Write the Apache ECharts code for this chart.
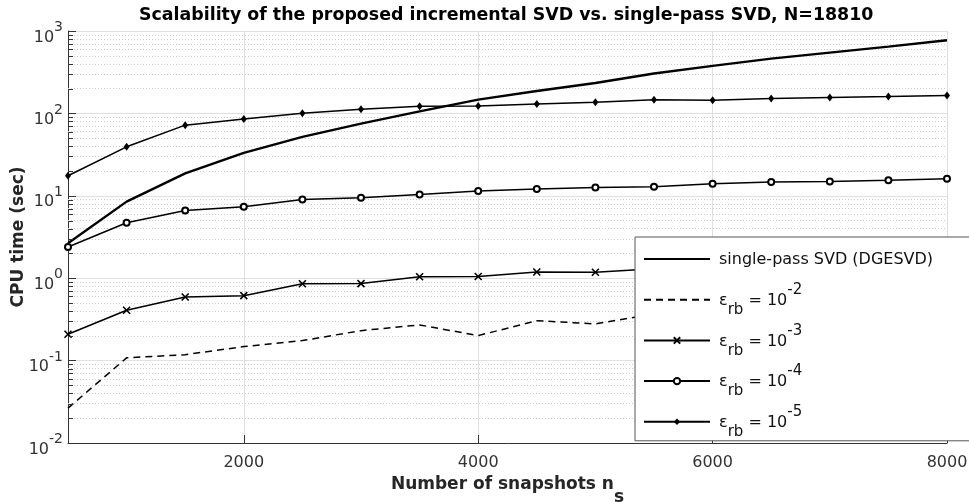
<!DOCTYPE html>
<html><head><meta charset="utf-8">
<script src="https://cdn.jsdelivr.net/npm/echarts@6/dist/echarts.min.js"></script>
<style>html,body{margin:0;padding:0;background:#fff}#c{width:969px;height:502px}</style>
</head><body><div id="c"></div>
<script>
// ---- data ----
const snapshots = [500,1000,1500,2000,2500,3000,3500,4000,4500,5000,5500,6000,6500,7000,7500,8000];
const singlePass = [2.65,8.5,18.7,33.2,52,75,106,147,187,234,305,377,462,547,647,771];
const eps2 = [0.0265,0.108,0.118,0.148,0.175,0.231,0.271,0.201,0.305,0.279,0.368,0.38,0.42,0.45,0.5,0.52];
const eps3 = [0.209,0.408,0.592,0.614,0.857,0.86,1.04,1.05,1.19,1.18,1.30,1.35,1.45,1.5,1.55,1.6];
const eps4 = [2.39,4.71,6.65,7.35,9.04,9.46,10.4,11.4,12.1,12.6,12.9,14.0,14.7,14.9,15.4,16.1];
const eps5 = [17.5,39.3,72,85.8,100.6,112,122,123,130,137,146,144.5,152,156,160,165];
const yTickExponents = [-2,-1,0,1,2,3];
const xTickLabels = [2000,4000,6000,8000];
const seriesNames = ['single-pass SVD (DGESVD)','eps-2','eps-3','eps-4','eps-5'];
const epsExponents = ['-2','-3','-4','-5'];

const FONT = 'DejaVu Sans';
const chart = echarts.init(document.getElementById('c'), null, {renderer:'canvas'});

function pairs(vals){ return snapshots.map((x,i)=>[x, vals[i]]); }

// minor gridline values (2..9 x 10^k)
const minorVals = [];
for (let k = yTickExponents[0]; k < yTickExponents[yTickExponents.length-1]; k++) {
  for (let m = 2; m <= 9; m++) minorVals.push(m * Math.pow(10, k));
}

const legendRich = {
  a: {fontSize:16, fontFamily:FONT, color:'#111', lineHeight:16, padding:[11,0,9,0]},
  u: {fontSize:15, fontFamily:FONT, color:'#111', lineHeight:15, padding:[21,0,0,0]},
  p: {fontSize:15, fontFamily:FONT, color:'#111', lineHeight:15, padding:[1,0,20,0]}
};
function legendFormatter(name){
  const idx = seriesNames.indexOf(name);
  if (idx === 0) return '{a|' + name + '}';
  return '{a|ε}{u|rb}{a| = 10}{p|' + epsExponents[idx-1] + '}';
}

const xSymbol = 'path://M0,0L10,10M0,10L10,0';

const option = {
  animation: false,
  backgroundColor: '#fff',
  title: {
    text: 'Scalability of the proposed incremental SVD vs. single-pass SVD, N=18810',
    left: 134, top: 2,
    textStyle: {fontFamily: FONT, fontSize: 17.4, fontWeight: 'bold', color: '#000'}
  },
  grid: {left: 68, right: 22, top: 31, bottom: 59, outerBoundsMode: 'none', containLabel: false},
  legend: {
    orient: 'vertical',
    left: 635, top: 237,
    z: 20,
    padding: [4, 80, 1, 8],
    itemGap: 4.7,
    itemWidth: 66,
    itemHeight: 8,
    backgroundColor: '#fff',
    borderColor: '#555',
    borderWidth: 1,
    data: [
      {name: seriesNames[0], itemStyle: {opacity: 0}},
      {name: seriesNames[1], itemStyle: {opacity: 0}},
      {name: seriesNames[2]},
      {name: seriesNames[3]},
      {name: seriesNames[4]}
    ],
    formatter: legendFormatter,
    textStyle: {padding:[0,0,0,4], rich: legendRich}
  },
  xAxis: {
    type: 'value', min: 500, max: 8000, splitNumber: 4,
    name: '{m|Number of snapshots n}{s|s}',
    nameLocation: 'middle', nameGap: 32.5,
    nameTextStyle: {rich: {
      m: {fontFamily:FONT, fontSize:17, fontWeight:'bold', color:'#262626', lineHeight:17, padding:[0,0,13,0]},
      s: {fontFamily:FONT, fontSize:17, fontWeight:'bold', color:'#262626', lineHeight:17, padding:[13,0,0,0]}
    }},
    axisLine: {lineStyle: {color: '#333', width: 1}},
    axisTick: {inside: true, length: 8, lineStyle: {color: '#333'}},
    axisLabel: {showMinLabel: false, margin: 12, fontFamily: FONT, fontSize: 16, color: '#333',
      formatter: v => xTickLabels.indexOf(v) >= 0 ? String(v) : ''},
    splitLine: {show: true, lineStyle: {color: '#e0e0e0', width: 1}}
  },
  yAxis: {
    type: 'log', logBase: 10, min: 0.01, max: 1000, splitNumber: 5,
    name: 'CPU time (sec)', nameLocation: 'middle', nameGap: 41, nameMoveOverlap: false,
    nameTextStyle: {fontFamily: FONT, fontSize: 17, fontWeight: 'bold', color: '#262626'},
    axisLine: {show: true, lineStyle: {color: '#333', width: 1}},
    axisTick: {show: true, inside: true, length: 8, lineStyle: {color: '#333'}},
    axisLabel: {
      margin: 5, padding: [4,0,0,0],
      formatter: v => '{b|10}{s|' + Math.round(Math.log10(v)) + '}',
      rich: {
        b: {fontFamily: FONT, fontSize: 16, color: '#333', lineHeight: 16, padding: [9,0,0,0]},
        s: {fontFamily: FONT, fontSize: 14, color: '#333', lineHeight: 14, padding: [0,0,11,0]}
      }
    },
    splitLine: {show: true, lineStyle: {color: '#e0e0e0', width: 1}}
  },
  series: [
    {
      name: '__minorgrid', type: 'line', data: [], z: 1, silent: true,
      markLine: {
        silent: true, symbol: 'none', animation: false,
        label: {show: false},
        lineStyle: {type: [1,2], color: '#cccccc', width: 1},
        data: minorVals.map(v => ({yAxis: v}))
      }
    },
    {
      name: seriesNames[0], type: 'line', data: pairs(singlePass), symbol: 'none', z: 5,
      lineStyle: {color: '#000', width: 2.4}, itemStyle: {color: '#000'}
    },
    {
      name: seriesNames[1], type: 'line', data: pairs(eps2), symbol: 'none', z: 5,
      lineStyle: {color: '#000', width: 1.5, type: [7,5]}, itemStyle: {color: '#000'}
    },
    {
      name: seriesNames[2], type: 'line', data: pairs(eps3), symbol: xSymbol, symbolSize: 7, z: 5,
      lineStyle: {color: '#000', width: 1.5},
      itemStyle: {color: '#000', borderColor: '#000', borderWidth: 1.6}
    },
    {
      name: seriesNames[3], type: 'line', data: pairs(eps4), symbol: 'emptyCircle', symbolSize: 6, z: 5,
      lineStyle: {color: '#000', width: 1.5},
      itemStyle: {color: '#000', borderColor: '#000', borderWidth: 1.3}
    },
    {
      name: seriesNames[4], type: 'line', data: pairs(eps5), symbol: 'diamond', symbolSize: [6,8], z: 5,
      lineStyle: {color: '#000', width: 1.5},
      itemStyle: {color: '#000'}
    }
  ]
};
chart.setOption(option);

// minor ticks on the y axis (inward)
const x0 = chart.convertToPixel({xAxisIndex: 0}, snapshots[0]);
const minorTicks = minorVals.map(v => {
  const y = Math.round(chart.convertToPixel({yAxisIndex: 0}, v)) + 0.5;
  return {type: 'line', silent: true, z: 10,
    shape: {x1: x0, y1: y, x2: x0 + 5, y2: y},
    style: {stroke: '#333', lineWidth: 1}};
});
chart.setOption({graphic: minorTicks});
</script>
</body></html>
